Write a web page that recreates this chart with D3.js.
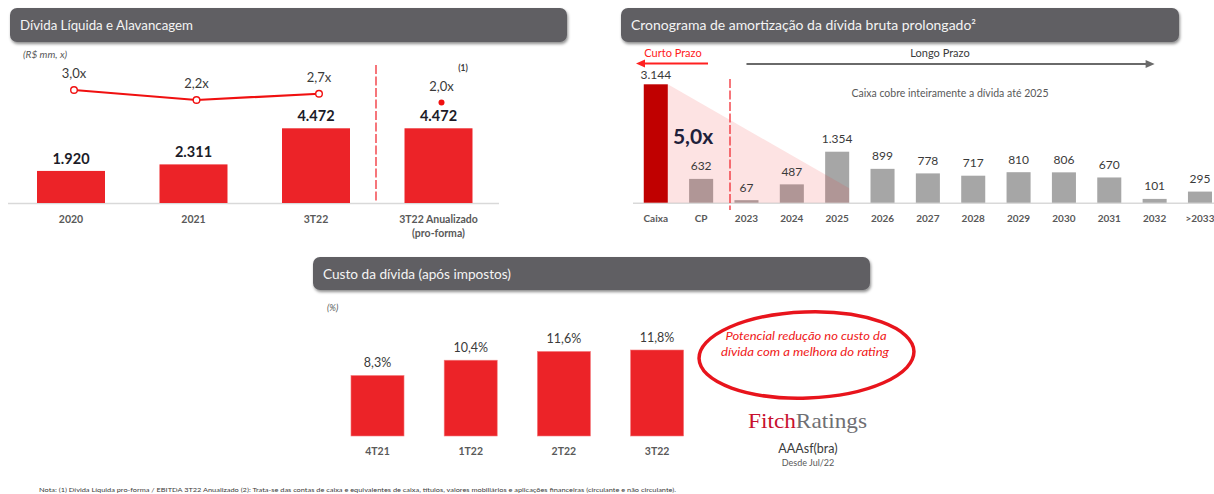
<!DOCTYPE html>
<html><head><meta charset="utf-8">
<script src="https://cdn.jsdelivr.net/npm/d3@7"></script>
<style>
html,body{margin:0;padding:0;background:#fff;}
svg{display:block;font-family:Lato,"Open Sans",sans-serif;}
</style></head>
<body><svg id="c" width="1214" height="494"></svg>
<script>
// ---- data ----
const levCats = ["2020", "2021", "3T22", "3T22 Anualizado"];
const levCatLines = [["2020"], ["2021"], ["3T22"], ["3T22 Anualizado", "(pro-forma)"]];
const netDebt = [1920, 2311, 4472, 4472];
const leverage = [3.0, 2.2, 2.7, 2.0];

const amortCats = ["Caixa", "CP", "2023", "2024", "2025", "2026", "2027", "2028", "2029", "2030", "2031", "2032", ">2033"];
const amortValues = [3144, 632, 67, 487, 1354, 899, 778, 717, 810, 806, 670, 101, 295];

const costCats = ["4T21", "1T22", "2T22", "3T22"];
const costValues = [8.3, 10.4, 11.6, 11.8];

const titles = ["Dívida Líquida e Alavancagem", "Cronograma de amortização da dívida bruta prolongado²", "Custo da dívida (após impostos)"];
const footnote = "Nota: (1) Dívida Líquida pro-forma / EBITDA 3T22 Anualizado (2): Trata-se das contas de caixa e equivalentes de caixa, títulos, valores mobiliários e aplicações financeiras (circulante e não circulante).";

// ---- helpers ----
const loc = d3.formatLocale({decimal: ",", thousands: ".", grouping: [3], currency: ["R$", ""]});
const fInt = loc.format(",d");
const f1 = loc.format(".1f");

const svg = d3.select("#c");
const defs = svg.append("defs");
const flt = defs.append("filter").attr("id", "sh").attr("x", "-5%").attr("y", "-30%").attr("width", "110%").attr("height", "170%");
flt.append("feDropShadow").attr("dx", 1).attr("dy", 2).attr("stdDeviation", 1.6).attr("flood-color", "#000").attr("flood-opacity", 0.45);

function header(x, y, w, h, title, tw) {
  svg.append("rect").attr("x", x).attr("y", y).attr("width", w).attr("height", h).attr("rx", 7)
    .attr("fill", "#605f64").attr("filter", "url(#sh)");
  svg.append("text").attr("x", x + 10).attr("y", y + h / 2 + 5).attr("fill", "#f4f4f4")
    .attr("font-size", 14).attr("textLength", tw).attr("lengthAdjust", "spacingAndGlyphs").text(title);
}

const darkTxt = "#3a3a3a", grayTxt = "#595959";

// ================= Chart 1 =================
header(10, 8, 557, 34, titles[0], 173);
svg.append("text").attr("x", 23).attr("y", 58).attr("font-size", 10).attr("font-style", "italic")
  .attr("fill", grayTxt).text("(R$ mm, x)");

const x1 = d3.scaleBand().domain(levCats).range([9.75, 499.75]).paddingInner(0.445).paddingOuter(0.2225);
const y1 = d3.scaleLinear().domain([0, 4472]).range([203, 128.3]);
const yL = d3.scaleLinear().domain([2, 3]).range([102.5, 90]);
const bw1 = x1.bandwidth();

svg.append("line").attr("x1", 8).attr("x2", 499).attr("y1", y1(0) + 0.5).attr("y2", y1(0) + 0.5)
  .attr("stroke", "#d9d9d9").attr("stroke-width", 1.5);
svg.selectAll(".b1").data(netDebt).join("rect")
  .attr("x", (d, i) => x1(levCats[i])).attr("y", d => y1(d)).attr("width", bw1).attr("height", d => y1(0) - y1(d))
  .attr("fill", "#ec2328");
svg.selectAll(".v1").data(netDebt).join("text")
  .attr("x", (d, i) => x1(levCats[i]) + bw1 / 2).attr("y", d => y1(d) - 7).attr("text-anchor", "middle")
  .attr("font-size", 14.5).attr("font-weight", 700).attr("fill", "#1c1c28").text(d => fInt(d));
// category labels
levCatLines.forEach((lines, i) => {
  const t = svg.append("text").attr("x", x1(levCats[i]) + bw1 / 2).attr("y", y1(0) + 19.7).attr("text-anchor", "middle")
    .attr("font-size", 10.5).attr("font-weight", 700).attr("fill", grayTxt);
  lines.forEach((l, k) => t.append("tspan").attr("x", x1(levCats[i]) + bw1 / 2).attr("dy", k ? 14 : 0).text(l));
});
// separator
svg.append("line").attr("x1", 376).attr("x2", 376).attr("y1", 65).attr("y2", y1(0))
  .attr("stroke", "#f01c24").attr("stroke-width", 1.2).attr("stroke-dasharray", "9,2.5");
// leverage line
const lx = i => x1(levCats[i]) + bw1 / 2 + 3;
const linePts = leverage.slice(0, 3).map((v, i) => [lx(i), yL(v)]);
svg.append("path").attr("d", d3.line()(linePts)).attr("fill", "none").attr("stroke", "#f01010").attr("stroke-width", 2.2);
svg.selectAll(".m1").data(leverage.slice(0, 3)).join("circle")
  .attr("cx", (d, i) => lx(i)).attr("cy", d => yL(d)).attr("r", 3.3)
  .attr("fill", "#fff").attr("stroke", "#f01010").attr("stroke-width", 1.4);
svg.append("circle").attr("cx", lx(3)).attr("cy", yL(leverage[3])).attr("r", 3).attr("fill", "#f01010");
svg.selectAll(".l1").data(leverage).join("text")
  .attr("x", (d, i) => lx(i)).attr("y", d => yL(d) - 12).attr("text-anchor", "middle")
  .attr("font-size", 13).attr("fill", darkTxt).text(d => f1(d) + "x");
svg.append("text").attr("x", 463).attr("y", 71).attr("text-anchor", "middle").attr("font-size", 8.5)
  .attr("font-weight", 700).attr("fill", darkTxt).text("(1)");

// ================= Chart 2 =================
header(621, 8, 558, 34, titles[1], 345);
const x2 = d3.scaleBand().domain(amortCats).range([633.1, 633.1 + 13 * 45.35]).paddingInner(0.47).paddingOuter(0.235);
const y2 = d3.scaleLinear().domain([0, 3144]).range([202.7, 84.3]);
const bw2 = x2.bandwidth();

svg.append("line").attr("x1", 633).attr("x2", 1214).attr("y1", y2(0) + 0.5).attr("y2", y2(0) + 0.5)
  .attr("stroke", "#d9d9d9").attr("stroke-width", 1.5);
svg.selectAll(".b2").data(amortValues).join("rect")
  .attr("x", (d, i) => x2(amortCats[i])).attr("y", d => y2(d)).attr("width", bw2).attr("height", d => y2(0) - y2(d))
  .attr("fill", (d, i) => i === 0 ? "#c00000" : "#a6a6a6");
// pink coverage triangle (drawn over bars)
{
  const xa = x2("Caixa") + bw2, ya = y2(amortValues[0]);
  const xEnd = x2("2026") + bw2 * 0.17; // where hypotenuse meets baseline
  const xc = x2("2025") + bw2;
  const yc = ya + (y2(0) - ya) * (xc - xa) / (xEnd - xa);
  svg.append("path").attr("d", d3.line()([[xa, ya], [xc, yc], [xc, y2(0)], [xa, y2(0)]]) + "Z")
    .attr("fill", "#f03c3c").attr("fill-opacity", 0.14);
}
svg.selectAll(".v2").data(amortValues).join("text")
  .attr("x", (d, i) => x2(amortCats[i]) + bw2 / 2).attr("y", (d, i) => y2(d) - (i === 0 ? 5 : 8.5)).attr("text-anchor", "middle")
  .attr("font-size", 12).attr("fill", darkTxt).text(d => fInt(d));
svg.selectAll(".c2").data(amortCats).join("text")
  .attr("x", d => x2(d) + bw2 / 2).attr("y", y2(0) + 19).attr("text-anchor", "middle")
  .attr("font-size", 10).attr("font-weight", 700).attr("fill", grayTxt).text(d => d);
svg.append("line").attr("x1", 730).attr("x2", 730).attr("y1", 79).attr("y2", 210)
  .attr("stroke", "#f01c24").attr("stroke-width", 1.2).attr("stroke-dasharray", "9,2.5");
svg.append("text").attr("x", 693).attr("y", 144).attr("text-anchor", "middle").attr("font-size", 21)
  .attr("font-weight", 700).attr("fill", "#20203a").text("5,0x");
svg.append("text").attr("x", 950).attr("y", 97).attr("text-anchor", "middle").attr("font-size", 10.5)
  .attr("fill", grayTxt).text("Caixa cobre inteiramente a dívida até 2025");
// arrows
svg.append("text").attr("x", 673).attr("y", 57).attr("text-anchor", "middle").attr("font-size", 11)
  .attr("fill", "#ff2020").text("Curto Prazo");
svg.append("line").attr("x1", 644).attr("x2", 708).attr("y1", 63.5).attr("y2", 63.5).attr("stroke", "#ff2020").attr("stroke-width", 2);
svg.append("path").attr("d", "M636,63.5 L645,59.5 L645,67.5 Z").attr("fill", "#ff2020");
svg.append("text").attr("x", 940).attr("y", 57).attr("text-anchor", "middle").attr("font-size", 11)
  .attr("fill", darkTxt).text("Longo Prazo");
const ga0 = x2("2023") + bw2 / 2, ga1 = x2("2032") + bw2 / 2;
svg.append("line").attr("x1", ga0).attr("x2", ga1 - 8).attr("y1", 64).attr("y2", 64).attr("stroke", "#6a6a6a").attr("stroke-width", 2);
svg.append("path").attr("d", `M${ga1},64 L${ga1 - 9},60 L${ga1 - 9},68 Z`).attr("fill", "#6a6a6a");

// ================= Chart 3 =================
header(313, 257, 557, 33, titles[2], 188);
svg.append("text").attr("x", 327).attr("y", 311).attr("font-size", 9).attr("font-style", "italic")
  .attr("fill", grayTxt).text("(%)");
const x3 = d3.scaleBand().domain(costCats).range([330.9, 703.7]).paddingInner(0.431).paddingOuter(0.2155);
const y3 = d3.scaleLinear().domain([0, 11.8]).range([436, 350]);
const bw3 = x3.bandwidth();
svg.selectAll(".b3").data(costValues).join("rect")
  .attr("x", (d, i) => x3(costCats[i])).attr("y", d => y3(d)).attr("width", bw3).attr("height", d => y3(0) - y3(d))
  .attr("fill", "#ec2328").attr("stroke", "#f47a7c").attr("stroke-width", 0.6);
svg.selectAll(".v3").data(costValues).join("text")
  .attr("x", (d, i) => x3(costCats[i]) + bw3 / 2).attr("y", d => y3(d) - 8.5).attr("text-anchor", "middle")
  .attr("font-size", 12.5).attr("fill", darkTxt).text(d => f1(d) + "%");
svg.selectAll(".c3").data(costCats).join("text")
  .attr("x", d => x3(d) + bw3 / 2).attr("y", y3(0) + 19).attr("text-anchor", "middle")
  .attr("font-size", 10.5).attr("font-weight", 700).attr("fill", grayTxt).text(d => d);

// oval annotation
svg.append("ellipse").attr("cx", 806.5).attr("cy", 355).attr("rx", 107.5).attr("ry", 43)
  .attr("fill", "none").attr("stroke", "#e8141c").attr("stroke-width", 3.5)
  .attr("transform", "rotate(-2 806.5 355)");
svg.append("text").attr("x", 806).attr("y", 340).attr("text-anchor", "middle").attr("font-size", 12)
  .attr("font-style", "italic").attr("fill", "#f01818").attr("textLength", 161).attr("lengthAdjust", "spacingAndGlyphs")
  .text("Potencial redução no custo da");
svg.append("text").attr("x", 805).attr("y", 356).attr("text-anchor", "middle").attr("font-size", 12)
  .attr("font-style", "italic").attr("fill", "#f01818").attr("textLength", 168).attr("lengthAdjust", "spacingAndGlyphs")
  .text("dívida com a melhora do rating");
// Fitch
const ft = svg.append("text").attr("x", 748).attr("y", 428).attr("font-size", 22)
  .attr("font-family", "'Liberation Serif','DejaVu Serif',serif").attr("textLength", 119).attr("lengthAdjust", "spacingAndGlyphs");
ft.append("tspan").attr("fill", "#c8102e").text("Fitch");
ft.append("tspan").attr("fill", "#6f6f73").text("Ratings");
svg.append("text").attr("x", 808).attr("y", 453).attr("text-anchor", "middle").attr("font-size", 12.5)
  .attr("fill", darkTxt).text("AAAsf(bra)");
svg.append("text").attr("x", 808).attr("y", 466).attr("text-anchor", "middle").attr("font-size", 9)
  .attr("fill", grayTxt).text("Desde Jul/22");

// footnote
svg.append("text").attr("x", 39).attr("y", 492).attr("font-size", 6.5).attr("fill", darkTxt)
  .attr("textLength", 637).attr("lengthAdjust", "spacingAndGlyphs").text(footnote);
</script></body></html>
